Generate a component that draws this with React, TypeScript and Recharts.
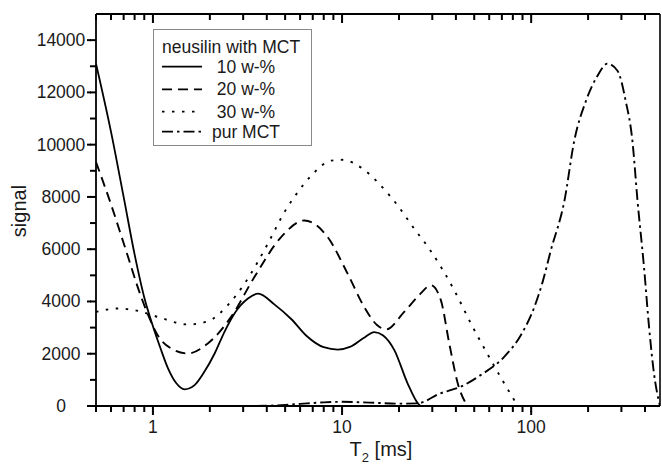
import React from 'react';
import { LineChart, Line, XAxis, YAxis, ReferenceLine } from 'recharts';

// ---- data (T2 in ms, signal) ----
const t10 = [0.5, 0.6, 0.7, 0.8, 0.9, 1.0, 1.1, 1.2, 1.33, 1.47, 1.66, 1.87, 2.12, 2.39, 2.7, 3.18, 3.6, 4.4, 5.4, 6.5, 8, 9.5, 11, 13, 14.8, 16.5, 18.9, 22.2, 25.3, 26];
const s10 = [13100, 10500, 8000, 5800, 4150, 3050, 2180, 1450, 870, 640, 800, 1310, 2010, 2840, 3540, 4110, 4300, 3880, 3320, 2680, 2250, 2160, 2260, 2600, 2830, 2700, 2140, 870, 80, 0];

const t20 = [0.5, 0.6, 0.706, 0.867, 0.96, 1.06, 1.25, 1.53, 1.95, 2.59, 3.44, 4.76, 6.32, 8.4, 10.7, 13.1, 15.3, 17.1, 21.3, 26, 29.5, 33.3, 36.9, 40.9, 46];
const s20 = [9330, 7720, 6150, 4170, 3350, 2710, 2200, 2010, 2390, 3410, 4935, 6460, 7100, 6460, 5065, 3790, 3100, 2930, 3600, 4300, 4620, 4050, 2390, 870, 0];

const t30 = [0.5, 0.653, 0.833, 1.06, 1.53, 1.95, 2.49, 3.05, 4.05, 4.96, 5.83, 7.0, 8.77, 10.1, 12.9, 16.0, 19.7, 24.1, 28.9, 39.2, 48.0, 61.2, 72.0, 85];
const s30 = [3600, 3730, 3640, 3410, 3120, 3240, 3860, 4680, 6210, 7420, 8180, 8880, 9390, 9420, 9070, 8440, 7670, 6780, 6020, 4430, 3160, 1760, 870, 0];

const tMct = [3.5, 5, 6, 8, 10, 14, 20, 25, 33, 42.5, 54, 72, 88, 104, 115, 127, 150, 169, 195, 224, 253, 286, 316, 343, 365, 395, 420, 446, 480];
const sMct = [0, 40, 80, 140, 160, 130, 90, 100, 480, 740, 1180, 1880, 2700, 3790, 4750, 5950, 7860, 10150, 11680, 12630, 13100, 12830, 11680, 10150, 7860, 5320, 3030, 1250, 0];

const seriesNames = ['10 w-%', '20 w-%', '30 w-%', 'pur MCT'];
const legendTitle = 'neusilin with MCT';

const xTicks = [0.5, 0.6, 0.7, 0.8, 0.9, 1, 2, 3, 4, 5, 6, 7, 8, 9, 10, 20, 30, 40, 50, 60, 70, 80, 90, 100, 200, 300, 400];
const xMajor = [1, 10, 100];
const yTicks = [0, 1000, 2000, 3000, 4000, 5000, 6000, 7000, 8000, 9000, 10000, 11000, 12000, 13000, 14000];
const xDomain = [0.5, 480];
const yDomain = [0, 15000];

const toData = (xs: number[], ys: number[]) => xs.map((x, i) => ({ x, y: ys[i] }));

const FONT = '"Liberation Sans", Arial, sans-serif';
const INK = '#000';
const TXT = '#1a1a1a';
const dashes = ['', '10 6', '2.5 7.5', '11 4 2.5 4'];
const tickLineStyle = { stroke: INK, strokeWidth: 2 };
// inward tick lengths for the top frame, in signal units (plot is 392 px tall)
const topMinorLen = (yDomain[1] * 6) / 392;
const topMajorLen = (yDomain[1] * 9) / 392;

// y here is the end of the built-in 6px tick line
const BottomTick = (props: any) => {
  const { x, y, payload } = props;
  const major = xMajor.includes(payload.value);
  if (!major) return <g />;
  return (
    <g>
      <line x1={x} x2={x} y1={y - 1} y2={y + 3} stroke={INK} strokeWidth={2} />
      <text x={x} y={y + 21} textAnchor="middle" fontSize={17.5} fill={TXT} fontFamily={FONT}>
        {payload.value}
      </text>
    </g>
  );
};

const LeftTick = (props: any) => {
  const { x, y, payload } = props;
  const major = payload.value % 2000 === 0;
  if (!major) return <g />;
  return (
    <g>
      <line x1={x + 1} x2={x - 3} y1={y} y2={y} stroke={INK} strokeWidth={2} />
      <text x={x - 29} y={y + 6} textAnchor="middle" fontSize={17.5} fill={TXT} fontFamily={FONT}>
        {payload.value}
      </text>
    </g>
  );
};

const LegendBox = () => {
  const rows = [37.7, 60.3, 82.7, 102.7];
  return (
    <svg width={160} height={118} style={{ position: 'absolute', left: 153, top: 29, display: 'block' }}>
      <rect x={0.5} y={0.5} width={158} height={116} fill="#fff" stroke="#888" strokeWidth={1} />
      <text x={9} y={24} fontSize={17.5} fill={TXT} fontFamily={FONT}>{legendTitle}</text>
      {seriesNames.map((n, i) => (
        <g key={n}>
          <line x1={9} x2={49} y1={rows[i]} y2={rows[i]} stroke={INK} strokeWidth={1.8} strokeDasharray={dashes[i] || undefined} />
          <text x={93} y={rows[i] + 6} textAnchor="middle" fontSize={17.5} fill={TXT} fontFamily={FONT}>{n}</text>
        </g>
      ))}
    </svg>
  );
};

const AxisTitles = () => (
  <svg width={662} height={466} style={{ position: 'absolute', left: 0, top: 0, pointerEvents: 'none' }}>
    <text x={381} y={456} textAnchor="middle" fontSize={20} fill={TXT} fontFamily={FONT}>
      <tspan>T</tspan>
      <tspan fontSize={13} dy={6}>2</tspan>
      <tspan dy={-6}> [ms]</tspan>
    </text>
    <text x={19} y={211} transform="rotate(-90 19 211)" textAnchor="middle" dominantBaseline="central" fontSize={20} fill={TXT} fontFamily={FONT}>
      signal
    </text>
  </svg>
);

const seriesData = [toData(t10, s10), toData(t20, s20), toData(t30, s30), toData(tMct, sMct)];

export default function App() {
  return (
    <div style={{ position: 'absolute', left: 0, top: 0, width: 662, height: 466, background: '#fff' }}>
      <LineChart width={662} height={466} margin={{ top: 14, right: 2, bottom: 20, left: 0 }}>
        <XAxis
          dataKey="x"
          type="number"
          scale="log"
          domain={xDomain}
          allowDataOverflow
          ticks={xTicks}
          interval={0}
          tick={<BottomTick />}
          tickLine={tickLineStyle}
          tickSize={6}
          tickMargin={0}
          height={40}
          axisLine={{ stroke: INK, strokeWidth: 1.8 }}
        />
        <YAxis
          type="number"
          domain={yDomain}
          ticks={yTicks}
          interval={0}
          tick={<LeftTick />}
          tickLine={tickLineStyle}
          tickSize={6}
          tickMargin={0}
          width={96}
          axisLine={{ stroke: INK, strokeWidth: 1.8 }}
        />
        <ReferenceLine y={yDomain[1]} stroke={INK} strokeWidth={2} />
        <ReferenceLine x={xDomain[1]} stroke={INK} strokeWidth={1.6} />
        {xTicks.map((v) => (
          <ReferenceLine
            key={`top-${v}`}
            segment={[
              { x: v, y: yDomain[1] },
              { x: v, y: yDomain[1] - (xMajor.includes(v) ? topMajorLen : topMinorLen) },
            ]}
            stroke={INK}
            strokeWidth={2}
          />
        ))}
        {seriesData.map((d, i) => (
          <Line
            key={seriesNames[i]}
            name={seriesNames[i]}
            data={d}
            dataKey="y"
            type="monotone"
            stroke={INK}
            strokeWidth={i === 0 ? 1.8 : 1.9}
            strokeDasharray={dashes[i] || undefined}
            dot={false}
            activeDot={false}
            isAnimationActive={false}
          />
        ))}
      </LineChart>
      <AxisTitles />
      <LegendBox />
    </div>
  );
}
